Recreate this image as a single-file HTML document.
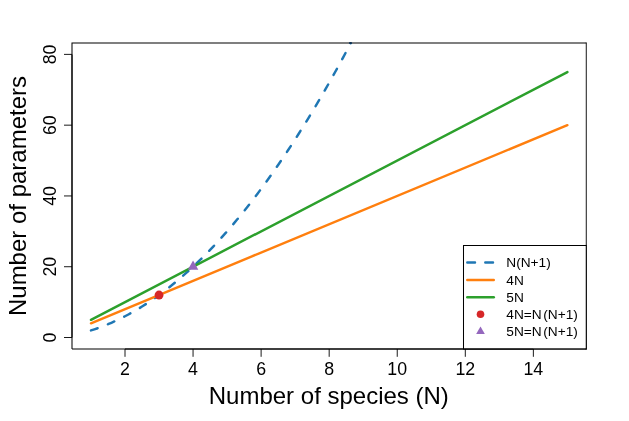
<!DOCTYPE html>
<html><head><meta charset="utf-8"><title>plot</title>
<style>
html,body{margin:0;padding:0;background:#fff;}
body{width:629px;height:421px;overflow:hidden;}
svg{display:block;will-change:transform;}
text{font-family:"Liberation Sans",sans-serif;fill:#000;}
.tk{font-size:17.8px;}
.lab{font-size:24px;}
.lg{font-size:13.7px;}
</style></head><body>
<svg width="629" height="421" viewBox="0 0 629 421">
<rect x="0" y="0" width="629" height="421" fill="#fff"/>
<defs><clipPath id="cp"><rect x="72.00" y="43.00" width="514.40" height="306.00"/></clipPath></defs>

<g fill="none" stroke="#000" stroke-width="1.03"><path d="M72.0,349.0 V43.0 H586.30"/><path d="M72.0,349.0 H586.30"/><path d="M586.28,42.5 V349.5" stroke-width="0.92"/></g>
<g clip-path="url(#cp)" fill="none" stroke-width="2.45" stroke-linecap="round" stroke-linejoin="round">
<path d="M90.97,330.42 L94.37,329.32 L97.78,328.16 L101.18,326.92 L104.58,325.61 L107.99,324.23 L111.39,322.78 L114.79,321.26 L118.19,319.66 L121.60,318.00 L125.00,316.27 L128.40,314.46 L131.81,312.59 L135.21,310.64 L138.61,308.62 L142.02,306.53 L145.42,304.37 L148.82,302.15 L152.22,299.85 L155.63,297.47 L159.03,295.03 L162.43,292.52 L165.84,289.94 L169.24,287.28 L172.64,284.56 L176.05,281.76 L179.45,278.89 L182.85,275.96 L186.25,272.95 L189.66,269.87 L193.06,266.72 L196.46,263.50 L199.87,260.21 L203.27,256.85 L206.67,253.41 L210.08,249.91 L213.48,246.34 L216.88,242.69 L220.28,238.97 L223.69,235.19 L227.09,231.33 L230.49,227.40 L233.90,223.40 L237.30,219.33 L240.70,215.19 L244.10,210.98 L247.51,206.70 L250.91,202.35 L254.31,197.92 L257.72,193.43 L261.12,188.86 L264.52,184.23 L267.93,179.52 L271.33,174.74 L274.73,169.89 L278.13,164.97 L281.54,159.98 L284.94,154.92 L288.34,149.79 L291.75,144.59 L295.15,139.32 L298.55,133.97 L301.96,128.56 L305.36,123.07 L308.76,117.52 L312.16,111.89 L315.57,106.19 L318.97,100.42 L322.37,94.58 L325.78,88.67 L329.18,82.69 L332.58,76.64 L335.99,70.52 L339.39,64.32 L342.79,58.06 L346.19,51.73 L349.60,45.32 L353.00,38.84 L356.40,32.30 L359.81,25.68 L363.21,18.99 L366.61,12.23 L370.02,5.40 L373.42,-1.50 L376.82,-8.47 L380.22,-15.52 L383.63,-22.63 L387.03,-29.81 L390.43,-37.07 L393.84,-44.39 L397.24,-51.79 L400.64,-59.26 L404.05,-66.80 L407.45,-74.40 L410.85,-82.08 L414.25,-89.83 L417.66,-97.66 L421.06,-105.55 L424.46,-113.51 L427.87,-121.54 L431.27,-129.65 L434.67,-137.82 L438.08,-146.07 L441.48,-154.39 L444.88,-162.77 L448.28,-171.23 L451.69,-179.76 L455.09,-188.36 L458.49,-197.03 L461.90,-205.77 L465.30,-214.58 L468.70,-223.47 L472.11,-232.42 L475.51,-241.45 L478.91,-250.54 L482.31,-259.71 L485.72,-268.94 L489.12,-278.25 L492.52,-287.63 L495.93,-297.08 L499.33,-306.60 L502.73,-316.19 L506.14,-325.85 L509.54,-335.58 L512.94,-345.39 L516.34,-355.26 L519.75,-365.20 L523.15,-375.22 L526.55,-385.31 L529.96,-395.46 L533.36,-405.69 L536.76,-415.99 L540.17,-426.36 L543.57,-436.80 L546.97,-447.31 L550.37,-457.89 L553.78,-468.54 L557.18,-479.27 L560.58,-490.06 L563.99,-500.92 L567.39,-511.86" stroke="#1f77b4" stroke-dasharray="7 11"/>
<line x1="90.97" y1="323.34" x2="567.39" y2="125.16" stroke="#ff7f0e"/>
<line x1="90.97" y1="319.81" x2="567.39" y2="72.07" stroke="#2ca02c"/>
</g>
<ellipse cx="350.5" cy="43.0" rx="1.7" ry="0.95" fill="#0c2d4e"/>
<circle cx="159.03" cy="295.03" r="4.44" fill="#d62728"/>
<polygon points="193.06,260.52 187.81,269.82 198.31,269.82" fill="#9467bd"/>
<g fill="none" stroke="#000" stroke-width="1.05">
<path d="M125.00,349.0 H533.36"/>
<path d="M125.00,349.0 V356.80" stroke-width="0.9"/>
<path d="M193.06,349.0 V356.80" stroke-width="0.9"/>
<path d="M261.12,349.0 V356.80" stroke-width="0.9"/>
<path d="M329.18,349.0 V356.80" stroke-width="0.9"/>
<path d="M397.24,349.0 V356.80" stroke-width="0.9"/>
<path d="M465.30,349.0 V356.80" stroke-width="0.9"/>
<path d="M533.36,349.0 V356.80" stroke-width="0.9"/>
<path d="M72.0,337.50 V54.38"/>
<path d="M72.0,337.50 H64.00" stroke-width="0.9"/>
<path d="M72.0,266.72 H64.00" stroke-width="0.9"/>
<path d="M72.0,195.94 H64.00" stroke-width="0.9"/>
<path d="M72.0,125.16 H64.00" stroke-width="0.9"/>
<path d="M72.0,54.38 H64.00" stroke-width="0.9"/>
</g>
<text class="tk" x="125.00" y="375.0" text-anchor="middle">2</text>
<text class="tk" x="193.06" y="375.0" text-anchor="middle">4</text>
<text class="tk" x="261.12" y="375.0" text-anchor="middle">6</text>
<text class="tk" x="329.18" y="375.0" text-anchor="middle">8</text>
<text class="tk" x="397.24" y="375.0" text-anchor="middle">10</text>
<text class="tk" x="465.30" y="375.0" text-anchor="middle">12</text>
<text class="tk" x="533.36" y="375.0" text-anchor="middle">14</text>
<text class="tk" transform="translate(55.5,337.50) rotate(-90)" text-anchor="middle">0</text>
<text class="tk" transform="translate(55.5,266.72) rotate(-90)" text-anchor="middle">20</text>
<text class="tk" transform="translate(55.5,195.94) rotate(-90)" text-anchor="middle">40</text>
<text class="tk" transform="translate(55.5,125.16) rotate(-90)" text-anchor="middle">60</text>
<text class="tk" transform="translate(55.5,54.38) rotate(-90)" text-anchor="middle">80</text>
<text class="lab" x="328.80" y="404.1" text-anchor="middle">Number of species (N)</text>
<text class="lab" transform="translate(26.2,196.00) rotate(-90)" text-anchor="middle">Number of parameters</text>
<rect x="463.5" y="245.4" width="122.20" height="102.90" fill="#fff"/>
<g fill="none" stroke="#000" stroke-width="1.03"><path d="M586.30,245.4 H463.5 V349.0 H586.30"/><path d="M586.28,244.90 V349.5" stroke-width="0.92"/></g>
<g fill="none" stroke-width="2.45" stroke-linecap="round">
<path d="M467.3,262.5 H493.8" stroke="#1f77b4" stroke-dasharray="7.7 10.3"/>
<path d="M467.3,279.95 H493.8" stroke="#ff7f0e"/>
<path d="M467.3,297.25 H493.8" stroke="#2ca02c"/>
</g>
<circle cx="480.5" cy="314.2" r="3.8" fill="#d62728"/>
<polygon points="480.5,326.38 476.15,333.91 484.85,333.91" fill="#9467bd"/>
<text class="lg" x="506.3" y="267.40">N(N+1)</text>
<text class="lg" x="506.3" y="284.55">4N</text>
<text class="lg" x="506.3" y="301.70">5N</text>
<text class="lg" x="506.3" y="318.80">4N=N<tspan dx="1.6">(N+1)</tspan></text>
<text class="lg" x="506.3" y="336.30">5N=N<tspan dx="1.6">(N+1)</tspan></text>
</svg></body></html>
